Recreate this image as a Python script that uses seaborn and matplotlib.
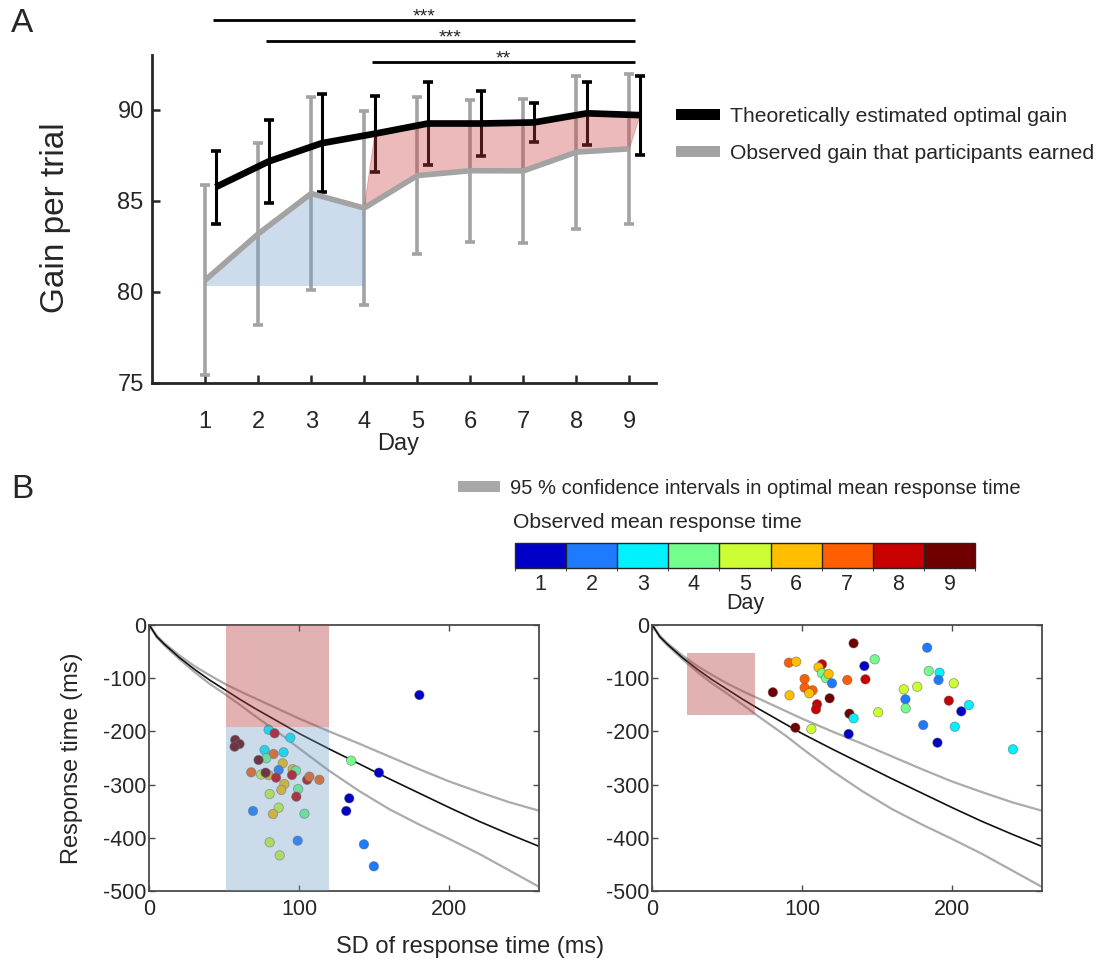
import numpy as np
import pandas as pd
import matplotlib
matplotlib.use("Agg")
import matplotlib.pyplot as plt
import matplotlib as mpl
import seaborn as sns
from matplotlib.patches import Patch, Rectangle
from matplotlib.colors import ListedColormap, BoundaryNorm

# ---------------- data: panel A ----------------
days = [1, 2, 3, 4, 5, 6, 7, 8, 9]
optimal_gain = [85.75, 87.16, 88.16, 88.68, 89.24, 89.24, 89.30, 89.80, 89.70]
optimal_err = [2.0, 2.29, 2.70, 2.09, 2.26, 1.77, 1.05, 1.73, 2.17]
observed_gain = [80.64, 83.18, 85.40, 84.60, 86.38, 86.65, 86.64, 87.67, 87.85]
observed_err = [5.2, 5.0, 5.27, 5.33, 4.3, 3.9, 3.96, 4.2, 4.11]
blue_baseline = 80.35
sig_start_days = [1, 2, 4]
sig_end_day = 9
sig_labels = ["***", "***", "**"]
sig_levels = [94.93, 93.77, 92.62]

# ---------------- data: panel B ----------------
curve_sd = [0, 5, 10, 20, 30, 40, 50, 60, 70, 80, 90, 100, 120, 140, 160, 180, 200,
            220, 240, 260]
optimal_rt = [0, -22, -36, -61, -83, -103, -121, -139, -156, -172, -188, -204, -233,
              -261, -289, -316, -343, -369, -393, -416]
ci_upper_rt = [0, -20, -34, -57, -77, -94, -110, -124, -137, -150, -163, -176, -200,
               -223, -247, -271, -294, -314, -333, -349]
ci_lower_rt = [0, -23, -38, -64, -88, -110, -129, -149, -170, -190, -210, -232, -274,
               -312, -346, -375, -402, -430, -461, -492]

left_sd = [180.2, 79.6, 83.6, 94.1, 57.3, 60.2, 56.9, 76.9, 82.9, 89.6, 78.0, 72.9,
           89.0, 86.3, 95.7, 97.9, 68.0, 74.6, 79.6, 77.6, 84.6, 95.2, 105.3, 106.8,
           113.5, 90.1, 88.1, 99.3, 80.3, 98.1, 86.3, 69.2, 82.5, 103.5, 80.3, 99.0,
           87.0, 134.7, 153.2, 133.4, 131.4, 143.2, 149.8]
left_rt = [-131.6, -197, -203.6, -211.8, -216, -223.7, -228.7, -235, -242.5, -239.3,
           -250.6, -253.8, -260, -272.6, -271, -273.9, -276.9, -281, -282, -277.6,
           -287, -282, -291, -285, -291, -299, -310, -308.3, -317.7, -322.7, -343.4,
           -349.6, -355.3, -354.7, -408.5, -405.4, -433, -255, -277.6, -325.8, -349.6,
           -412.3, -453.6]
left_day = [1, 3, 8, 3, 9, 9, 9, 3, 7, 3, 4, 9, 6, 2, 6, 4, 7, 5, 6, 9, 8, 8, 8, 7, 7,
            6, 6, 4, 5, 8, 5, 2, 6, 4, 5, 2, 5, 4, 1, 1, 1, 2, 2]

right_sd = [134.4, 91.2, 96.1, 113.3, 111.0, 113.3, 116.0, 117.7, 120.0, 101.7, 101.7,
            107.0, 104.8, 130.2, 141.6, 142.3, 148.5, 80.5, 91.6, 118.4, 110.0, 109.3,
            131.6, 134.4, 150.8, 95.5, 106.2, 131.1, 183.5, 184.6, 191.8, 191.1, 201.3,
            167.9, 176.9, 169.0, 169.2, 198.0, 206.3, 211.4, 180.9, 202.0, 190.4, 240.8]
right_rt = [-34.4, -70.8, -68.9, -73.9, -79.5, -90.8, -100, -92.1, -109.6, -101.5,
            -117.8, -122.8, -128.4, -103.4, -77.1, -102.1, -64.5, -126.5, -132.2,
            -137.8, -149, -158.5, -166.7, -175.4, -164.1, -193, -195.5, -204.9, -42.6,
            -86.5, -89.6, -103.4, -109.6, -120.9, -116, -139.7, -156.6, -142.2, -162.3,
            -150.4, -188, -191.2, -221.2, -233.7]
right_day = [9, 7, 6, 8, 6, 4, 4, 6, 2, 7, 7, 7, 6, 7, 1, 8, 4, 9, 6, 9, 8, 8, 9, 3, 5,
             9, 5, 1, 2, 4, 3, 2, 5, 5, 5, 2, 4, 8, 1, 3, 2, 3, 1, 3]

day_colors = ["#0000C8", "#1E7BFF", "#00F2FF", "#72FF8E", "#CCFF33",
              "#FFBF00", "#FF5F00", "#C80000", "#700000"]

left_rect_sd = (51.5, 119.7)
left_red_rt = (-191, 0)
left_blue_rt = (-500, -191)
right_rect_sd = (23.2, 68.4)
right_red_rt = (-170, -53)

# ---------------- style ----------------
sns.set_style("ticks")
plt.rcParams["font.family"] = ["Liberation Sans", "DejaVu Sans"]
plt.rcParams["axes.unicode_minus"] = False

W, H = 1104, 964
fig = plt.figure(figsize=(W / 100, H / 100), dpi=100)


def fx(px):
    return px / W


def fy(py):
    return 1 - py / H


# ---------------- Panel A ----------------
axA = fig.add_axes([fx(152), fy(383), fx(656 - 152), (383 - 55) / H])
gray = "#A3A3A3"
days_arr = np.array(days, dtype=float)
opt_x = days_arr + 0.2

axA.errorbar(days_arr, observed_gain, yerr=observed_err, fmt="none", ecolor=gray,
             elinewidth=2.6, capsize=3.5, capthick=2.6, zorder=2)
axA.errorbar(opt_x, optimal_gain, yerr=optimal_err, fmt="none", ecolor="black",
             elinewidth=2.2, capsize=3.5, capthick=2.6, zorder=2)

# shaded differences
axA.fill_between(days_arr[:4], observed_gain[:4], blue_baseline,
                 facecolor=(0.45, 0.62, 0.80), alpha=0.36, linewidth=0, zorder=4)
poly_x = np.concatenate([opt_x[3:], days_arr[3:][::-1]])
poly_y = np.concatenate([np.array(optimal_gain[3:]), np.array(observed_gain[3:])[::-1]])
axA.fill(poly_x, poly_y, facecolor=(0.80, 0.25, 0.25), alpha=0.36,
         edgecolor=(0.8, 0.2, 0.2), linewidth=0.6, zorder=4)

sns.lineplot(x=days_arr, y=observed_gain, color=gray, linewidth=4.0, ax=axA,
             zorder=6, solid_capstyle="butt")
sns.lineplot(x=opt_x, y=optimal_gain, color="black", linewidth=4.8, ax=axA,
             zorder=7, solid_capstyle="butt")

axA.set_xlim(0, 9.5)
axA.set_ylim(75, 93)
axA.set_xticks(days)
axA.set_yticks([75, 80, 85, 90])
axA.spines["top"].set_visible(False)
axA.spines["right"].set_visible(False)
for s in ["left", "bottom"]:
    axA.spines[s].set_linewidth(2.0)
axA.tick_params(axis="both", direction="in", length=6, width=1.8, labelsize=17)
axA.tick_params(axis="x", pad=20)
axA.tick_params(axis="y", pad=6)
axA.set_xlabel("Day", fontsize=17)
axA.xaxis.set_label_coords((398 - 152) / 504, (383 - 433) / 328)
axA.set_ylabel("Gain per trial", fontsize=24)
axA.yaxis.set_label_coords((71 - 152) / 504, (383 - 218) / 328)

# significance bars
for start, lab, lev in zip(sig_start_days, sig_labels, sig_levels):
    x0 = start + 0.15
    x1 = sig_end_day + 0.1
    axA.plot([x0, x1], [lev, lev], color="black", lw=2.0, clip_on=False,
             solid_capstyle="butt")
    axA.text((x0 + x1) / 2, lev - 0.3, lab, ha="center", va="bottom", fontsize=14,
             clip_on=False)

# legend A
handlesA = [Patch(facecolor="black", edgecolor="none"),
            Patch(facecolor=gray, edgecolor="none")]
fig.legend(handlesA, ["Theoretically estimated optimal gain",
                      "Observed gain that participants earned"],
           loc="upper left", bbox_to_anchor=(fx(676), fy(107)), frameon=False,
           fontsize=15.2, handlelength=2.1, handleheight=0.4, handletextpad=0.45,
           labelspacing=0.84, borderpad=0, borderaxespad=0)

fig.text(fx(11), fy(23), "A", fontsize=24, ha="left", va="center")
fig.text(fx(11), fy(490), "B", fontsize=24, ha="left", va="center")

# ---------------- Panel B ----------------
left_df = pd.DataFrame({"sd": left_sd, "rt": left_rt, "day": left_day})
right_df = pd.DataFrame({"sd": right_sd, "rt": right_rt, "day": right_day})
palette = {d: c for d, c in zip(days, day_colors)}

axL = fig.add_axes([fx(149.3), fy(891), fx(539 - 149.3), 266 / H])
axR = fig.add_axes([fx(652.3), fy(891), fx(1041.7 - 652.3), 266 / H])

for ax, df in [(axL, left_df), (axR, right_df)]:
    sns.lineplot(x=curve_sd, y=ci_upper_rt, color="#ABABAB", linewidth=1.6, ax=ax, zorder=2)
    sns.lineplot(x=curve_sd, y=ci_lower_rt, color="#ABABAB", linewidth=1.6, ax=ax, zorder=2)
    sns.lineplot(x=curve_sd, y=optimal_rt, color="#111111", linewidth=1.2, ax=ax, zorder=2)
    sns.scatterplot(data=df, x="sd", y="rt", hue="day", palette=palette, legend=False,
                    s=46, edgecolor=(0.35, 0.35, 0.35, 0.55), linewidth=0.6, ax=ax,
                    zorder=3)
    ax.set_xlim(0, 260)
    ax.set_ylim(-500, 0)
    ax.set_xticks([0, 100, 200])
    ax.set_yticks([0, -100, -200, -300, -400, -500])
    for s in ax.spines.values():
        s.set_visible(True)
        s.set_color("#4A4A4A")
        s.set_linewidth(1.3)
    ax.tick_params(axis="both", direction="in", length=4, width=1.0, color="#4A4A4A",
                   labelsize=15.5, top=True, right=True)
    ax.tick_params(axis="x", pad=6)
    ax.tick_params(axis="y", pad=2)
    ax.set_xlabel("")
    ax.set_ylabel("")

axL.add_patch(Rectangle((left_rect_sd[0], left_red_rt[0]), left_rect_sd[1] - left_rect_sd[0],
                        left_red_rt[1] - left_red_rt[0], facecolor=(0.72, 0.25, 0.25),
                        alpha=0.40, linewidth=0, zorder=4))
axL.add_patch(Rectangle((left_rect_sd[0], left_blue_rt[0]), left_rect_sd[1] - left_rect_sd[0],
                        left_blue_rt[1] - left_blue_rt[0], facecolor=(0.43, 0.60, 0.77),
                        alpha=0.35, linewidth=0, zorder=4))
axR.add_patch(Rectangle((right_rect_sd[0], right_red_rt[0]), right_rect_sd[1] - right_rect_sd[0],
                        right_red_rt[1] - right_red_rt[0], facecolor=(0.72, 0.25, 0.25),
                        alpha=0.40, linewidth=0, zorder=4))

fig.text(fx(470), fy(947), "SD of response time (ms)", fontsize=17, ha="center", va="center")
fig.text(fx(72), fy(758), "Response time (ms)", fontsize=17, ha="center", va="center",
         rotation=90)

# legend B (confidence interval)
fig.legend([Patch(facecolor="#A8A8A8", edgecolor="none")],
           ["95 % confidence intervals in optimal mean response time"],
           loc="upper left", bbox_to_anchor=(fx(458), fy(479)), frameon=False,
           fontsize=14.5, handlelength=2.1, handleheight=0.45, handletextpad=0.5,
           borderpad=0, borderaxespad=0)
fig.text(fx(513), fy(522), "Observed mean response time", fontsize=15.2, ha="left",
         va="center")

# colour bar
axCB = fig.add_axes([fx(515), fy(568), fx(975 - 515), 25 / H])
cmap = ListedColormap(day_colors)
norm = BoundaryNorm(np.arange(0.5, 10.5, 1.0), cmap.N)
cb = mpl.colorbar.ColorbarBase(axCB, cmap=cmap, norm=norm, orientation="horizontal",
                               ticks=days, drawedges=True)
cb.outline.set_linewidth(1.0)
cb.dividers.set_linewidth(1.0)
cb.ax.tick_params(length=0, labelsize=15.5, pad=4)
cb.set_label("Day", fontsize=15.5, labelpad=-1)

fig.savefig("out.png", dpi=100)
